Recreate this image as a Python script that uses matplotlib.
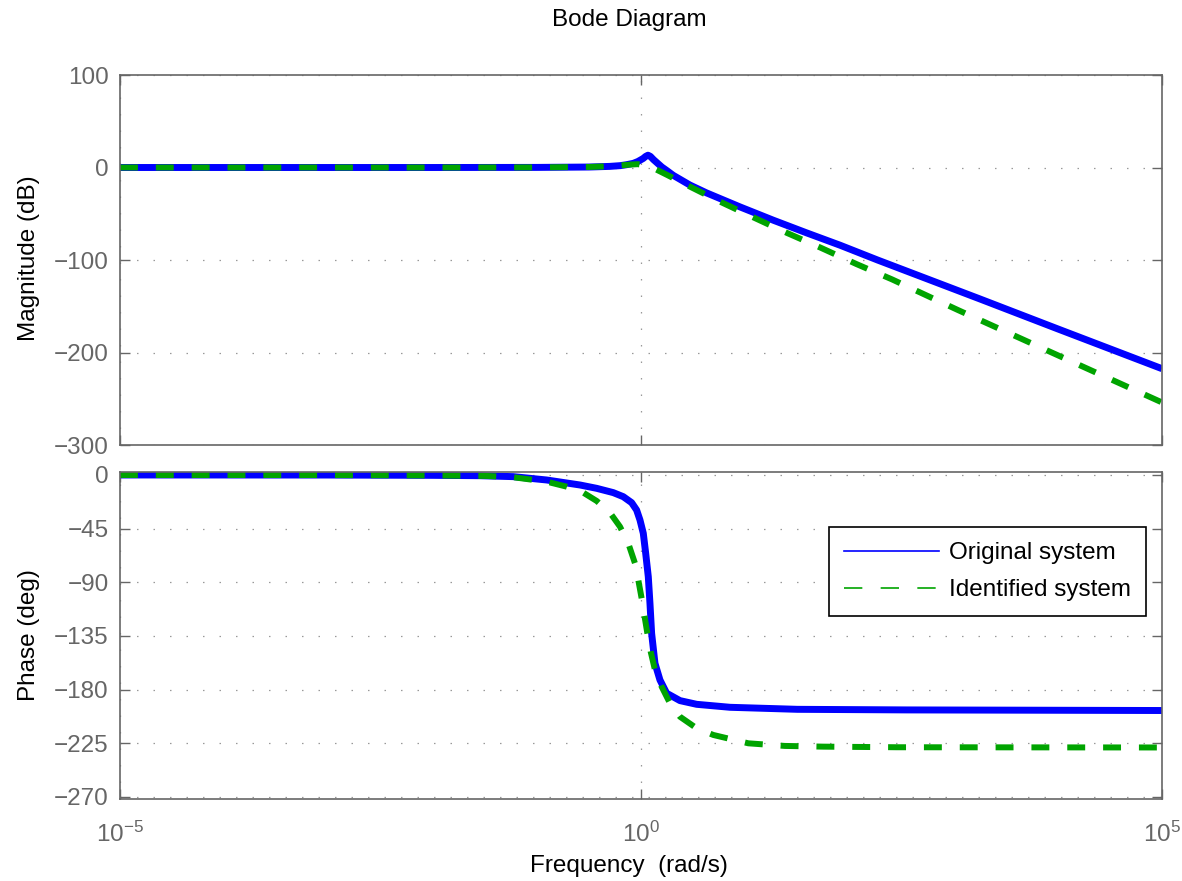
import matplotlib
matplotlib.use("Agg")
import matplotlib.pyplot as plt
from matplotlib.lines import Line2D
import numpy as np

plt.rcParams['font.family'] = ['Liberation Sans', 'DejaVu Sans']
plt.rcParams['mathtext.fontset'] = 'custom'
plt.rcParams['mathtext.rm'] = 'Liberation Sans'
plt.rcParams['mathtext.it'] = 'Liberation Sans:italic'
plt.rcParams['mathtext.bf'] = 'Liberation Sans:bold'

# values (log10 of frequency in rad/s)
orig_mag_logw = [-5, -2, -1, -0.5, -0.3, -0.2, -0.14, -0.074, -0.03, 0.02, 0.045,
                 0.067, 0.09, 0.12, 0.15, 0.2, 0.25, 0.31, 0.47, 0.63, 0.95,
                 1.27, 1.59, 1.91, 2.27, 3.25, 4.0, 5.0]
orig_mag_db = [0, 0, 0.1, 0.5, 1.2, 2.0, 3.0, 4.5, 6.5, 9.7, 12,
               13.3, 12, 8.5, 5.5, 0.5, -3.5, -8.5, -19, -27.5, -42.6,
               -57, -70.7, -84, -100, -142, -174.5, -217.5]

ident_mag_logw = [-5, -2, -1, -0.5, -0.3, -0.2, -0.1, -0.03, 0.03, 0.08, 0.134,
                  0.25, 0.44, 0.76, 1.08, 1.40, 1.72, 2.07, 2.41, 3.04, 4.0, 5.0]
ident_mag_db = [0, 0, 0.1, 0.6, 1.3, 2.2, 3.2, 3.6, 2.5, 0.8, -1.5,
                -8, -19, -37, -54, -70.7, -86.5, -104.5, -121, -154, -203, -254]

orig_ph_logw = [-5, -3, -2, -1.545, -1.225, -0.905, -0.585, -0.425, -0.266, -0.17,
                -0.09, -0.042, -0.01, 0.022, 0.045, 0.07, 0.086, 0.102, 0.134,
                0.182, 0.246, 0.374, 0.534, 0.854, 1.5, 2.55, 5.0]
orig_ph_deg = [0, -0.05, -0.3, -0.6, -1.4, -4.2, -8.4, -11.2, -14.8, -18.2,
               -23.2, -29.4, -37.7, -48.9, -65.7, -85.3, -107.6, -132.8, -157.9,
               -171.9, -183, -189.2, -192.3, -194.8, -196.5, -197, -197.5]

ident_ph_logw = [-5, -3, -2, -1.481, -1.225, -0.905, -0.713, -0.569, -0.425, -0.298,
                 -0.202, -0.122, -0.058, -0.026, 0.006, 0.032, 0.061, 0.093, 0.134,
                 0.198, 0.278, 0.374, 0.534, 0.694, 1.03, 1.38, 1.75, 2.45, 5.0]
ident_ph_deg = [0, -0.05, -0.4, -0.8, -1.9, -5.6, -9.8, -14, -21.8, -31.6,
                -43.3, -57.3, -74, -88, -103.4, -117.4, -132.8, -148.2, -163.5,
                -177.5, -191.4, -202.7, -212.4, -218, -225, -227.2, -227.8, -228.3, -228.5]

mag_ticks = [100, 0, -100, -200, -300]
ph_ticks = [0, -45, -90, -135, -180, -225, -270]
freq_ticks = [1e-5, 1e0, 1e5]

blue = '#0000ff'
green = '#00a400'
gray = '#666666'
fs = 17.5

W, H = 1182, 881
fig = plt.figure(figsize=(W / 100, H / 100), dpi=100)


def px_axes(left, top, right, bottom):
    return fig.add_axes([left / W, 1 - bottom / H, (right - left) / W, (bottom - top) / H])


ax1 = px_axes(120, 75, 1162, 445)
ax2 = px_axes(120, 472, 1162, 799)

ax1.plot(10 ** np.array(orig_mag_logw), orig_mag_db, color=blue, lw=5,
         solid_capstyle='butt', solid_joinstyle='round')
ax1.plot(10 ** np.array(ident_mag_logw), ident_mag_db, color=green, lw=4.3,
         dashes=(3.0, 3.0), dash_capstyle='butt')
ax2.plot(10 ** np.array(orig_ph_logw), orig_ph_deg, color=blue, lw=5,
         solid_capstyle='butt', solid_joinstyle='round')
ax2.plot(10 ** np.array(ident_ph_logw), ident_ph_deg, color=green, lw=4.3,
         dashes=(3.0, 3.0), dash_capstyle='butt')

ax1.set_ylim(-300, 100)
ax1.set_yticks(mag_ticks)
ax2.set_ylim(-271.7, 2.5)
ax2.set_yticks(ph_ticks)

for ax in (ax1, ax2):
    ax.set_xscale('log')
    ax.set_xlim(1e-5, 1e5)
    ax.set_xticks(freq_ticks)
    ax.xaxis.set_minor_locator(matplotlib.ticker.NullLocator())
    ax.grid(True, which='major', color='#999999', linestyle=(0, (1.2, 12)), linewidth=0.9)
    ax.tick_params(which='major', direction='in', top=True, right=True, length=7,
                   width=1, color=gray, labelcolor=gray, labelsize=fs, pad=8)
    for s in ax.spines.values():
        s.set_color(gray)
        s.set_linewidth(1.2)

ax1.tick_params(labelbottom=False)
ax2.set_xticklabels([r'$10^{-5}$', r'$10^{0}$', r'$10^{5}$'])
ax2.tick_params(axis='x', pad=16)

fig.text(629 / W, 1 - 20 / H, 'Bode Diagram', ha='center', va='center', fontsize=fs)
fig.text(629 / W, 1 - 866 / H, 'Frequency  (rad/s)', ha='center', va='center', fontsize=fs)
fig.text(29 / W, 1 - 258 / H, 'Magnitude (dB)', ha='center', va='center', rotation=90, fontsize=fs)
fig.text(29 / W, 1 - 635 / H, 'Phase (deg)', ha='center', va='center', rotation=90, fontsize=fs)

handles = [Line2D([], [], color=blue, lw=1.2),
           Line2D([], [], color=green, lw=1.2, dashes=(11, 11))]
leg = ax2.legend(handles, ['Original system', 'Identified system'],
                 loc='upper right', bbox_to_anchor=(1146 / W, 1 - 527 / H),
                 bbox_transform=fig.transFigure, fontsize=fs, frameon=True,
                 fancybox=False, framealpha=1, edgecolor='black',
                 handlelength=3.9, handletextpad=0.42, labelspacing=0.62,
                 borderpad=0.62, borderaxespad=0)
leg.get_frame().set_linewidth(1.2)

plt.savefig('out.png', dpi=100)
